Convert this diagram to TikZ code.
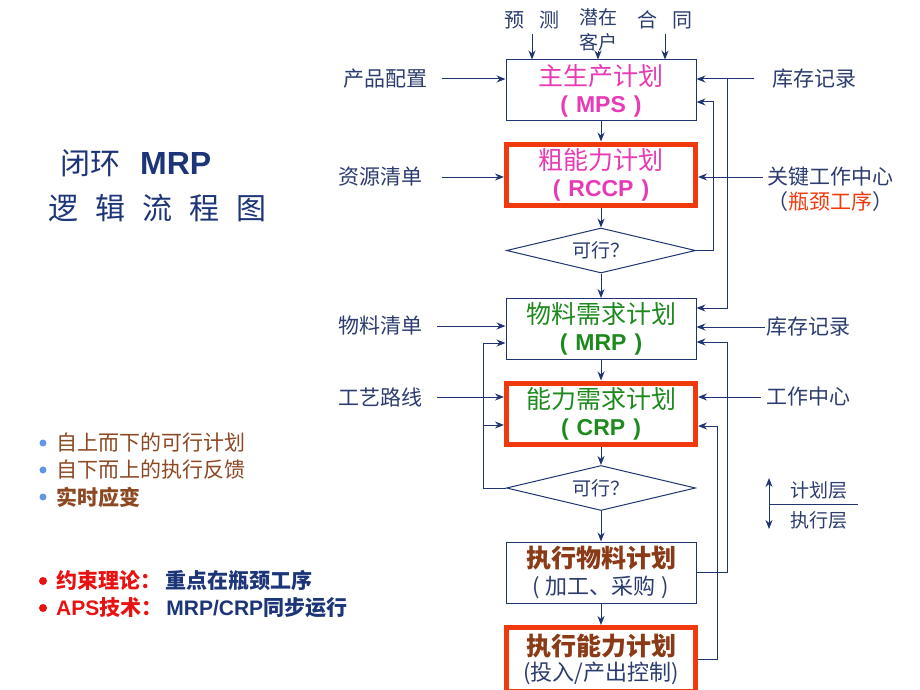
\documentclass[tikz,border=0pt]{standalone}
\usepackage{fontspec}
\setmainfont{Noto Sans CJK SC}
\newfontfamily\latn{Liberation Sans}
\usetikzlibrary{positioning,shapes.geometric,arrows.meta}
\definecolor{navy}{RGB}{31,52,112}
\definecolor{labnavy}{RGB}{44,60,110}
\definecolor{titlenavy}{RGB}{28,52,120}
\definecolor{boxred}{RGB}{240,58,14}
\definecolor{mpspink}{RGB}{232,58,180}
\definecolor{mrpgreen}{RGB}{30,138,30}
\definecolor{exbrown}{RGB}{138,58,22}
\definecolor{notebrown}{RGB}{140,72,34}
\definecolor{bulblue}{RGB}{100,150,232}
\definecolor{notered}{RGB}{232,18,18}

\begin{document}
\begin{tikzpicture}[x=1pt,y=-1pt,>={Stealth[length=9pt,width=7pt]},
	line/.style={draw=navy,line width=1pt},
	plan/.style={draw=navy,line width=1pt,minimum width=190pt,minimum height=61pt,inner sep=0pt,align=center,fill=white,font=\fontsize{25}{27}\selectfont},
	keyplan/.style={plan,draw=boxred,line width=5pt,minimum width=189pt},
	check/.style={diamond,aspect=4,draw=navy,line width=1pt,minimum width=189pt,minimum height=45pt,inner sep=0pt,text=labnavy,font=\fontsize{19}{22}\selectfont},
	lbl/.style={text=labnavy,font=\fontsize{21}{24}\selectfont,inner sep=0pt},
	rednote/.style={anchor=west,font=\bfseries\fontsize{21}{24}\selectfont,inner sep=0pt}]
	\useasboundingbox (0,0) rectangle (920,690);

	% title and notes
	\node [anchor=west,text=titlenavy,font=\fontsize{30}{36}\selectfont,inner sep=0pt] at (60,163) (title1) {闭环\hspace{20pt}{\latn\bfseries\fontsize{32}{36}\selectfont MRP}};
	\node [anchor=west,text=titlenavy,font=\fontsize{30}{36}\selectfont,inner sep=0pt] at (48,208) (title2) {逻\hspace{17pt}辑\hspace{17pt}流\hspace{17pt}程\hspace{17pt}图};
	\node [anchor=west,align=left,text=notebrown,font=\fontsize{21}{27.5}\selectfont,inner sep=0pt] at (56,470) (notes) {自上而下的可行计划\\自下而上的执行反馈\\\bfseries 实时应变};
	\foreach \y in {443,470,497}
		\fill [bulblue] (43,\y) circle (3.5pt);
	\node [rednote] at (56,581) (toc) {{\color{notered}约束理论：}\hspace{4pt}{\color{titlenavy}重点在瓶颈工序}};
	\node [rednote] at (56,608) (apsnote) {{\color{notered}{\latn APS}技术：}\hspace{4pt}{\color{titlenavy}{\latn MRP/CRP}同步运行}};
	\fill [notered] (43,581) circle (4pt);
	\fill [notered] (43,608) circle (4pt);

	% main chain
	\node [plan] at (601,90.5) (MPS) {{\color{mpspink}主生产计划}\\{\color{mpspink}\latn\bfseries\fontsize{23}{27}\selectfont(\hspace{8pt}MPS\hspace{8pt})}};
	\node [keyplan] at (601,174.5) (RCCP) {{\color{mpspink}粗能力计划}\\{\color{mpspink}\latn\bfseries\fontsize{23}{27}\selectfont(\hspace{8pt}RCCP\hspace{8pt})}};
	\node [check] at (601,250.5) (feas1) {可行？};
	\node [plan] at (601,329) (MRP) {{\color{mrpgreen}物料需求计划}\\{\color{mrpgreen}\latn\bfseries\fontsize{23}{27}\selectfont(\hspace{8pt}MRP\hspace{8pt})}};
	\node [keyplan] at (601,413.5) (CRP) {{\color{mrpgreen}能力需求计划}\\{\color{mrpgreen}\latn\bfseries\fontsize{23}{27}\selectfont(\hspace{8pt}CRP\hspace{8pt})}};
	\node [check] at (601,488) (feas2) {可行？};
	\node [plan] at (601,572.5) (EXMAT) {{\color{exbrown}\bfseries 执行物料计划}\\{\color{labnavy}\fontsize{22}{27}\selectfont(\hspace{6pt}加工、采购\hspace{6pt})}};
	\node [keyplan,minimum height=64pt,font=\fontsize{25}{25}\selectfont] at (601,659.5) (EXCAP) {{\color{exbrown}\bfseries 执行能力计划}\\{\color{labnavy}\fontsize{22}{25}\selectfont(投入/产出控制)}};

	\draw [->,line] (MPS) -- (RCCP);
	\draw [->,line] (RCCP) -- (feas1);
	\draw [->,line] (feas1) -- (MRP);
	\draw [->,line] (MRP) -- (CRP);
	\draw [->,line] (CRP) -- (feas2);
	\draw [->,line] (feas2) -- (EXMAT);
	\draw [->,line] (EXMAT) -- (EXCAP);

	% inputs from the top
	\node [lbl,font=\fontsize{20}{24}\selectfont] at (532,20) (forecast) {预\hspace{15pt}测};
	\node [lbl,align=center,font=\fontsize{19}{25}\selectfont] at (598,30) (prospect) {潜在\\客户};
	\node [lbl,font=\fontsize{20}{24}\selectfont] at (665,20) (contract) {合\hspace{15pt}同};
	\draw [->,line,shorten <=5pt] (forecast) -- (forecast |- MPS.north);
	\draw [->,line] (prospect) -- (prospect |- MPS.north);
	\draw [->,line,shorten <=5pt] (contract) -- (contract |- MPS.north);

	% inputs from the left
	\node [lbl] at (385,79) (config) {产品配置};
	\node [lbl] at (380,177) (resbill) {资源清单};
	\node [lbl] at (380,326) (bom) {物料清单};
	\node [lbl] at (380,397) (routing) {工艺路线};
	\draw [->,line,shorten <=15pt] (config) -- (config -| MPS.west);
	\draw [->,line,shorten <=20pt] (resbill) -- (resbill -| RCCP.west);
	\draw [->,line,shorten <=15pt] (bom) -- (bom -| MRP.west);
	\draw [->,line,shorten <=15pt] (routing) -- (routing -| CRP.west);

	% inputs from the right
	\node [lbl] at (814,79) (stock1) {库存记录};
	\node [lbl] at (830,177) (keywc) {关键工作中心};
	\node [lbl,anchor=north east] at ([yshift=-4pt]keywc.south east) (bneck) {（{\color{boxred}瓶颈工序}）};
	\node [lbl] at (808,327) (stock2) {库存记录};
	\node [lbl] at (808,397) (wc) {工作中心};
	\draw [->,line,shorten <=18pt] (stock1) -- (stock1 -| MPS.east);
	\draw [->,line,shorten <=4pt] (keywc) -- (keywc -| RCCP.east);
	\draw [->,line,shorten <=1pt] (stock2) -- (stock2 -| MRP.east);
	\draw [->,line,shorten <=5pt] (wc) -- (wc -| CRP.east);

	% feedback loops
	\coordinate (k1) at (713,102);
	\coordinate (j1) at (727,79);
	\coordinate (j2) at (727,308);
	\coordinate (k3) at (727,342);
	\coordinate (k4) at (717,426);
	\coordinate (k5) at (483,343);
	\coordinate (k6) at (483,425);
	\draw [->,line] (feas1.east) -| (k1) -- (k1 -| MPS.east);
	\draw [->,line] (j1) -- (j2) -- (j2 -| MRP.east);
	\draw [->,line] (EXMAT.east) -| (k3) -- (k3 -| MRP.east);
	\draw [->,line] (EXCAP.east) -| (k4) -- (k4 -| CRP.east);
	\draw [->,line] (feas2.west) -| (k5) -- (k5 -| MRP.west);
	\draw [->,line] (k6) -- (k6 -| CRP.west);

	% level legend
	\coordinate (up) at (769,478);
	\coordinate (down) at (769,529);
	\coordinate (split) at (769,504);
	\coordinate (splitend) at (858,504);
	\draw [<->,line] (up) -- (down);
	\draw [line] (split) -- (splitend);
	\node [lbl,font=\fontsize{19}{22}\selectfont] at (819,490) (planlvl) {计划层};
	\node [lbl,font=\fontsize{19}{22}\selectfont] at (819,520) (execlvl) {执行层};
\end{tikzpicture}
\end{document}
